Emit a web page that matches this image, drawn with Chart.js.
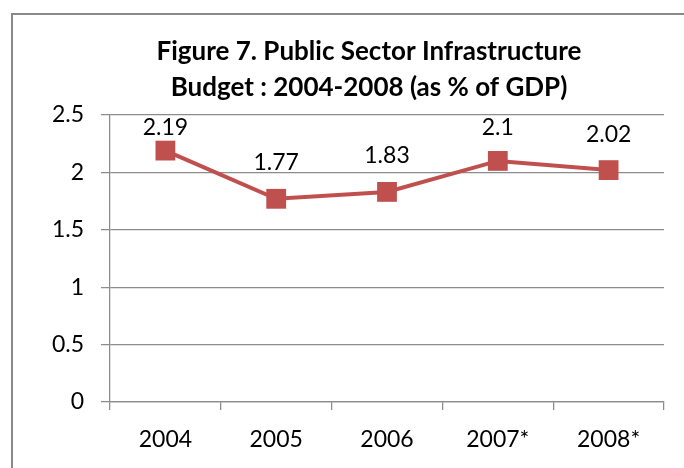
<!DOCTYPE html>
<html>
<head>
<meta charset="utf-8">
<script src="https://cdn.jsdelivr.net/npm/chart.js@4.4.1/dist/chart.umd.min.js"></script>
<style>
  html, body { margin: 0; padding: 0; background: #fff; }
  #wrap { width: 684px; height: 468px; }
</style>
</head>
<body>
<div id="wrap"><canvas id="presupuesto"></canvas></div>
<script>
// --- DATOS ---
const YEARS = ['2004', '2005', '2006', '2007*', '2008*'];
const BUDGET_PCT_GDP = [2.19, 1.77, 1.83, 2.1, 2.02];
const Y_TICKS = [0, 0.5, 1, 1.5, 2, 2.5];
const TITLE_LINES = ['Figure 7. Public Sector Infrastructure', 'Budget : 2004-2008 (as % of GDP)'];

const RED = '#C0504D';
const GRID = '#8c8c8c';
const FONT = 'Lato, "Open Sans", sans-serif';

// Marco gris, fondo blanco y título centrado
const framePlugin = {
    id: 'frame',
    beforeDraw(chart) {
        const ctx = chart.ctx;
        ctx.save();
        ctx.fillStyle = '#fff';
        ctx.fillRect(0, 0, chart.width, chart.height);
        ctx.strokeStyle = '#8a8a8a';
        ctx.lineWidth = 2;
        ctx.strokeRect(12, 14, chart.width + 40, chart.height + 40);
        ctx.restore();
    },
    afterDraw(chart) {
        const ctx = chart.ctx;
        ctx.save();
        ctx.fillStyle = '#000';
        ctx.font = `bold 26px ${FONT}`;
        ctx.textAlign = 'center';
        ctx.textBaseline = 'middle';
        TITLE_LINES.forEach((line, i) => ctx.fillText(line, 369, 52 + i * 36));
        ctx.restore();
    }
};

// Etiquetas de valor encima de cada punto (sin salir del área de trazado)
const valueLabels = {
    id: 'valueLabels',
    afterDatasetsDraw(chart) {
        const ctx = chart.ctx;
        const meta = chart.getDatasetMeta(0);
        const top = chart.chartArea.top;
        ctx.save();
        ctx.fillStyle = '#000';
        ctx.font = `23px ${FONT}`;
        ctx.textAlign = 'center';
        ctx.textBaseline = 'middle';
        meta.data.forEach((pt, i) => {
            const y = Math.max(pt.y - 36, top + 13);
            ctx.fillText(String(BUDGET_PCT_GDP[i]), pt.x, y);
        });
        ctx.restore();
    }
};

const ctx = document.getElementById('presupuesto').getContext('2d');

new Chart(ctx, {
    type: 'line',
    data: {
        labels: YEARS,
        datasets: [{
            label: 'Budget',
            data: BUDGET_PCT_GDP,
            borderColor: RED,
            backgroundColor: RED,
            borderWidth: 4,
            pointStyle: 'rect',
            pointRadius: 14,
            pointBorderWidth: 0,
            pointBackgroundColor: RED,
            tension: 0
        }]
    },
    options: {
        responsive: true,
        maintainAspectRatio: false,
        animation: false,
        layout: { padding: { top: 115, right: 20, bottom: 0, left: 0 } },
        plugins: {
            legend: { display: false },
            title: { display: false },
            tooltip: { enabled: false }
        },
        scales: {
            x: {
                offset: true,
                grid: {
                    offset: true,
                    drawOnChartArea: false,
                    drawTicks: true,
                    tickLength: 8,
                    color: GRID,
                    lineWidth: 1.25
                },
                border: { color: GRID, width: 1.25 },
                ticks: { color: '#000', font: { family: FONT, size: 23 }, padding: 16, maxRotation: 0 },
                afterFit: (scale) => { scale.height = 66; }
            },
            y: {
                min: 0,
                max: 2.5,
                afterBuildTicks: (scale) => { scale.ticks = Y_TICKS.map(v => ({ value: v })); },
                grid: {
                    color: GRID,
                    lineWidth: 1.25,
                    drawTicks: true,
                    tickLength: 9
                },
                border: { color: GRID, width: 1.25 },
                ticks: {
                    color: '#000',
                    font: { family: FONT, size: 23 },
                    padding: 17,
                    callback: (value) => String(value)
                },
                afterFit: (scale) => { scale.width = 110; }
            }
        }
    },
    plugins: [framePlugin, valueLabels]
});
</script>
</body>
</html>
